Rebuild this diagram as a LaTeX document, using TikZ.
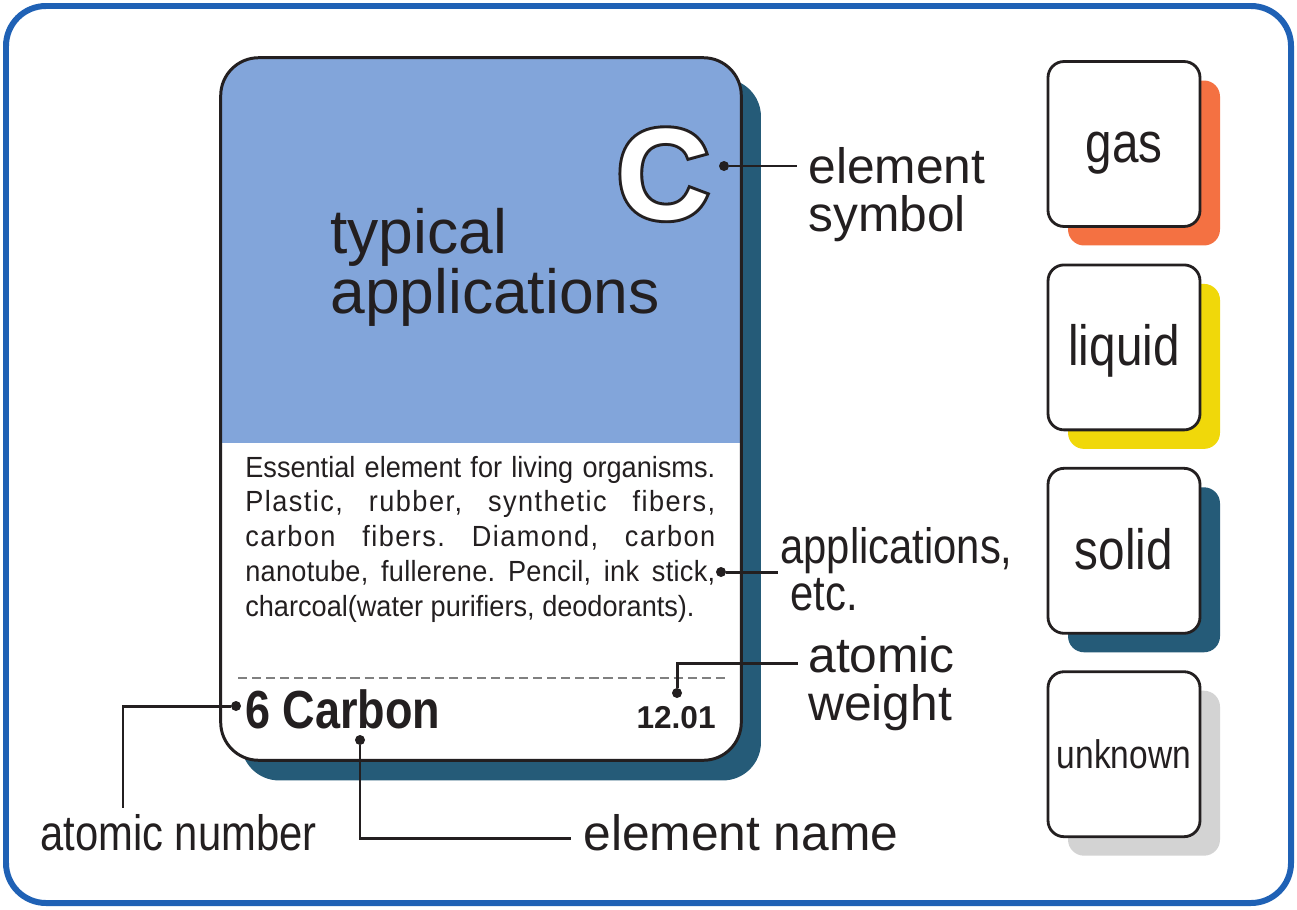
\documentclass[tikz,border=0pt]{standalone}
\usepackage{fontspec}
\setmainfont{Liberation Sans}
\newfontfamily\narrowfont[FakeStretch=0.84]{Liberation Sans}
\newfontfamily\descfont[FakeStretch=0.93]{Liberation Sans}
\newfontfamily\symfont{Liberation Sans Bold}
\newfontfamily\symedge[FakeBold=4.5]{Liberation Sans Bold}
\usetikzlibrary{shadows,positioning}

\definecolor{framebl}{RGB}{31,97,181}
\definecolor{cardbl}{RGB}{130,165,218}
\definecolor{deepteal}{RGB}{37,91,120}
\definecolor{stateorange}{RGB}{244,113,66}
\definecolor{stateyellow}{RGB}{240,216,10}
\definecolor{stategrey}{RGB}{211,211,211}
\definecolor{ink}{RGB}{35,31,32}
\definecolor{dashgrey}{RGB}{128,128,128}

\tikzset{
    every node/.style={text=ink},
    lbl/.style={inner sep=0pt, anchor=base west, align=left, font=\fontsize{28.3}{27}\selectfont},
    lblnarrow/.style={lbl, font=\narrowfont\fontsize{28.3}{26.6}\selectfont},
    dot/.style={circle, fill=ink, inner sep=0pt, minimum size=0.2cm},
    lead/.style={draw=ink, line width=1.7pt},
    card/.style={fill=white, rounded corners=0.76cm, minimum width=10.4cm, minimum height=14.04cm, inner sep=0pt,
        drop shadow={shadow xshift=0.4cm, shadow yshift=-0.41cm, fill=deepteal, opacity=1}},
    statebox/.style={draw=ink, line width=1.6pt, fill=white, rounded corners=0.32cm,
        minimum width=3.04cm, minimum height=3.3cm, inner sep=0pt, text depth=0pt,
        drop shadow={shadow xshift=0.4cm, shadow yshift=-0.38cm, fill=#1, opacity=1}}
}

\begin{document}
\begin{tikzpicture}[x=0.02cm, y=-0.02cm]
    \useasboundingbox (0,0) rectangle (1297,909);
    \draw[framebl, line width=3.4pt, rounded corners=0.8cm] (6,6) rectangle (1291,903);

    % the element card
    \node[card] (card) at (481,409) {};
    \begin{scope}
        \clip[rounded corners=0.76cm] (card.north west) rectangle (card.south east);
        \fill[cardbl] (card.north west) rectangle ([yshift=-7.7cm]card.north east);
    \end{scope}
    \draw[ink, line width=1.7pt, rounded corners=0.76cm] (card.north west) rectangle (card.south east);

    \node[inner sep=0pt, anchor=base west, align=left, font=\fontsize{35.5}{31.2}\selectfont] (typ) at (330,313) {typical\\applications};
    \node[inner sep=0pt, anchor=base, font=\symedge\fontsize{74}{74}\selectfont, text=ink] (symback) at (663,219) {C};
    \node[inner sep=0pt, anchor=base, font=\symfont\fontsize{74}{74}\selectfont, text=white] (sym) at (663,219) {C};

    \node[inner sep=0pt, anchor=base west, text width=9.4cm, align=justify,
        font=\descfont\fontsize{16.6}{19.8}\selectfont] (apps) at (245,477)
        {\frenchspacing\tolerance=9999\relax\hyphenpenalty=10000\relax
        Essential element for living organisms.\linebreak
        {\addfontfeature{LetterSpace=5}Plastic, rubber, synthetic fibers,}\linebreak
        {\addfontfeature{LetterSpace=5}carbon fibers. Diamond, carbon}\linebreak
        {\addfontfeature{LetterSpace=1}nanotube, fullerene. Pencil, ink stick,}\linebreak
        charcoal(water purifiers, deodorants).};

    \draw[dashgrey, line width=1.6pt, dash pattern=on 5.2pt off 2.8pt] (238,678) -- (727,678);
    \node[inner sep=0pt, anchor=base west, font=\narrowfont\bfseries\fontsize{30.5}{30.5}\selectfont] (name) at (245,728) {6 Carbon};
    \node[inner sep=0pt, anchor=base east, font=\bfseries\fontsize{18}{18}\selectfont] (weight) at (716,728) {12.01};

    % dots and leaders
    \node[dot] (d-sym) at (724,166) {};
    \node[dot] (d-app) at (721,572) {};
    \node[dot] (d-wt) at (677,693) {};
    \node[dot] (d-num) at (236,706) {};
    \node[dot] (d-name) at (360,740) {};

    \coordinate (sym-end) at (797,166);
    \coordinate (app-end) at (778,572);
    \coordinate (wt-end) at (798,663);
    \coordinate (num-end) at (123,808);
    \coordinate (name-end) at (571,838);

    \draw[lead] (d-sym) -- (sym-end);
    \draw[lead] (d-app) -- (app-end);
    \draw[lead] (d-wt) |- (wt-end);
    \draw[lead] (d-num) -| (num-end);
    \draw[lead] (d-name) |- (name-end);

    \node[lbl] (l-sym) at (808,231) {element\\symbol};
    \node[lblnarrow] (l-app) at (780,610) {applications,\\\hspace*{0.2em}etc.};
    \node[lbl] (l-wt) at (808,720) {atomic\\weight};
    \node[lblnarrow] (l-num) at (40,850) {atomic number};
    \node[lbl] (l-name) at (583,850) {element name};

    % states of matter
    \foreach \st/\col/\fs/\th [count=\i] in {gas/stateorange/32.3/21pt, liquid/stateyellow/32.3/21pt,
            solid/deepteal/32.3/21pt, unknown/stategrey/22.7/16pt}
        \node[statebox=\col, text height=\th, font=\narrowfont\fontsize{\fs}{\fs}\selectfont]
            (\st) at (1124,{144+203.4*(\i-1)}) {\st};
\end{tikzpicture}
\end{document}
